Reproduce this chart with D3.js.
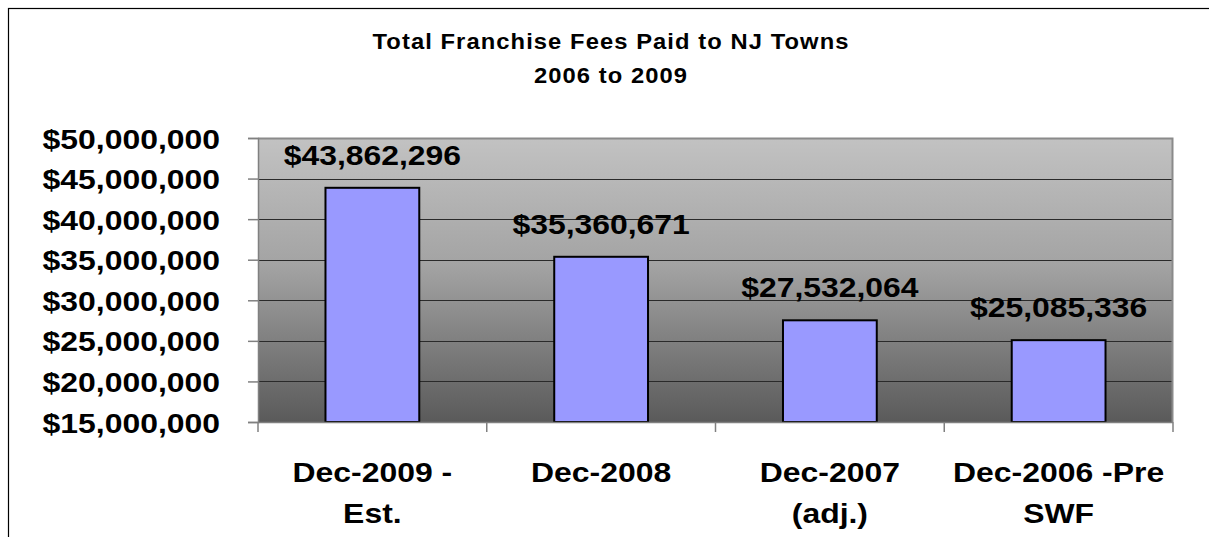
<!DOCTYPE html>
<html><head><meta charset="utf-8">
<script src="https://cdn.jsdelivr.net/npm/d3@7"></script>
<style>
body{margin:0;background:#fff;}
svg text{font-family:"Liberation Sans",Arial,sans-serif;font-weight:bold;fill:#000;}
</style></head>
<body>
<svg id="chart" width="1209" height="537"></svg>
<script>
const titleLines = ["Total Franchise Fees Paid to NJ Towns", "2006 to 2009"];
const categories = [["Dec-2009 -", "Est."], ["Dec-2008"], ["Dec-2007", "(adj.)"], ["Dec-2006 -Pre", "SWF"]];
const values = [43862296, 35360671, 27532064, 25085336];
const yTicks = [15000000, 20000000, 25000000, 30000000, 35000000, 40000000, 45000000, 50000000];

const svg = d3.select("#chart");
const plot = {left: 258, top: 138, right: 1173, bottom: 422};
const SX = 1.14; // horizontal glyph stretch seen in the reference

svg.append("rect").attr("x", 8.5).attr("y", 8.5).attr("width", 1220).attr("height", 560)
  .attr("fill", "none").attr("stroke", "#000").attr("stroke-width", 1.2);

const defs = svg.append("defs");
const grad = defs.append("linearGradient").attr("id", "bg").attr("x1", 0).attr("y1", 0).attr("x2", 0).attr("y2", 1);
grad.append("stop").attr("offset", "0%").attr("stop-color", "#c2c2c2");
grad.append("stop").attr("offset", "45%").attr("stop-color", "#a3a3a3");
grad.append("stop").attr("offset", "100%").attr("stop-color", "#5a5a5a");

const x = d3.scaleBand().domain(d3.range(categories.length)).range([plot.left, plot.right]).padding(0);
const y = d3.scaleLinear().domain([15000000, 50000000]).range([plot.bottom, plot.top]);

svg.append("rect").attr("x", plot.left).attr("y", plot.top)
  .attr("width", plot.right - plot.left).attr("height", plot.bottom - plot.top)
  .attr("fill", "url(#bg)");

svg.append("g").selectAll("line").data(yTicks.slice(1, -1)).join("line")
  .attr("x1", plot.left).attr("x2", plot.right)
  .attr("y1", d => Math.round(y(d)) + 0.5).attr("y2", d => Math.round(y(d)) + 0.5)
  .attr("stroke", "#2a2a2a").attr("stroke-width", 1);

svg.append("path")
  .attr("d", `M${plot.left},${plot.top + 0.5}H${plot.right - 0.5}V${plot.bottom}`)
  .attr("fill", "none").attr("stroke", "#8a8a8a").attr("stroke-width", 2);

const barW = x.bandwidth() * 0.41;
svg.append("g").selectAll("rect").data(values).join("rect")
  .attr("x", (d, i) => x(i) + x.bandwidth() / 2 - barW / 2)
  .attr("y", d => y(d))
  .attr("width", barW)
  .attr("height", d => y(15000000) - y(d))
  .attr("fill", "#9999ff").attr("stroke", "#000").attr("stroke-width", 2);

const yAxis = d3.axisLeft(y).tickValues(yTicks).tickSize(10).tickPadding(28)
  .tickFormat(d => "$" + d3.format(",")(d));
const gy = svg.append("g").attr("transform", `translate(${plot.left},0)`).call(yAxis);
gy.select(".domain").attr("stroke", "#808080").attr("stroke-width", 1.5);
gy.selectAll(".tick line").attr("stroke", "#808080").attr("stroke-width", 1.5);
gy.selectAll(".tick text").attr("font-size", 28).attr("font-family", "Liberation Sans, Arial, sans-serif")
  .attr("font-weight", "bold").attr("fill", "#000").attr("dy", "0.36em")
  .attr("x", 0).attr("transform", `translate(-38,0) scale(${SX},1)`);

const xTickPos = d3.range(categories.length + 1).map(i => plot.left + i * x.step());
svg.append("line").attr("x1", plot.left).attr("x2", plot.right)
  .attr("y1", plot.bottom + 0.5).attr("y2", plot.bottom + 0.5).attr("stroke", "#808080").attr("stroke-width", 1.5);
svg.append("g").selectAll("line").data(xTickPos).join("line")
  .attr("x1", d => d).attr("x2", d => d).attr("y1", plot.bottom).attr("y2", plot.bottom + 10)
  .attr("stroke", "#808080").attr("stroke-width", 1.5);

const gx = svg.append("g");
categories.forEach((lines, i) => {
  const t = gx.append("text").attr("text-anchor", "middle").attr("font-size", 28)
    .attr("transform", `translate(${x(i) + x.bandwidth() / 2},482) scale(${SX},1)`);
  lines.forEach((l, j) => t.append("tspan").attr("x", 0).attr("dy", j === 0 ? 0 : 41).text(l));
});

svg.append("g").selectAll("text").data(values).join("text")
  .attr("text-anchor", "middle").attr("font-size", 28)
  .attr("transform", (d, i) => `translate(${x(i) + x.bandwidth() / 2},${y(d) - 23}) scale(${SX},1)`)
  .text(d => "$" + d3.format(",")(d));

const tt = svg.append("text").attr("text-anchor", "middle").attr("font-size", 22)
  .attr("letter-spacing", 1).attr("transform", "translate(611,49) scale(1.08,1)");
titleLines.forEach((l, j) => tt.append("tspan").attr("x", 0).attr("dy", j === 0 ? 0 : 34).text(l));
</script>
</body></html>
